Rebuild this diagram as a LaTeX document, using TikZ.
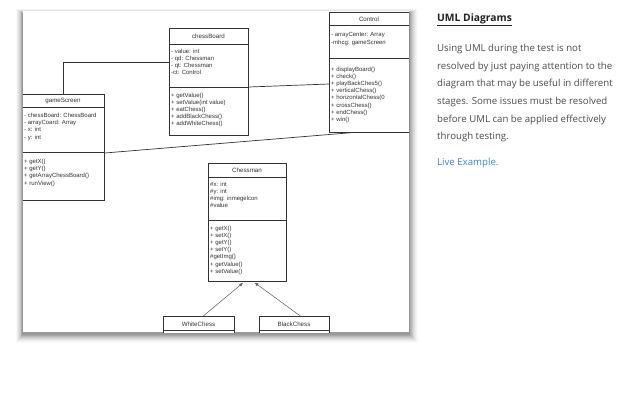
\documentclass[tikz,border=0pt]{standalone}
\usepackage{fontspec}
\setmainfont{Liberation Sans}
\newfontfamily\webfont{Open Sans}
\usetikzlibrary{arrows.meta}
\definecolor{ink}{HTML}{333333}
\definecolor{bodygray}{HTML}{4D4D4D}
\definecolor{headgray}{HTML}{222222}
\definecolor{linkblue}{HTML}{3A86C8}
\begin{document}
\begin{tikzpicture}[x=1pt,y=-1pt,
  cls/.style={draw=ink, line width=0.7pt, fill=white, inner sep=0, anchor=north west},
  divline/.style={draw=ink, line width=0.6pt},
  ctitle/.style={font=\fontsize{6.2}{7.2}\selectfont, text=ink, inner sep=0},
  items/.style={font=\fontsize{6}{7.2}\selectfont, text=ink, align=left, inner sep=0, anchor=north west},
  assoc/.style={draw=ink, line width=0.7pt},
  inh/.style={draw=ink!80, line width=0.5pt, -{Triangle[length=3.5pt,width=3pt]}, shorten >=2pt}
]
\useasboundingbox (0,0) rectangle (640,400);
\fill[white] (0,0) rectangle (640,400);
% panel shadow
\foreach \i/\o in {9/0.02,8/0.025,7/0.03,6/0.04,5/0.05,4/0.06,3/0.07,2/0.08,1/0.1}
  \fill[black,opacity=\o] (23-\i*0.8,11-\i*0.5+2) rectangle (409+\i,332+\i+1.5);
\fill[white] (23,11) rectangle (409,332);

\begin{scope}
\clip (23,11) rectangle (409,332);
% chessBoard
\node[cls, minimum width=79pt, minimum height=107pt] (chessBoard) at (169,28) {};
\node[ctitle] (cbT) at (208.5,36) {chessBoard};
\draw[divline] (169,44) -- (248,44);
\draw[divline] (169,87) -- (248,87);
\node[items] (cbA) at (171,48.5) {- value: int\\- qd: Chessman\\- qt: Chessman\\-ct: Control};
\node[items] (cbM) at (171,92.5) {+ getValue()\\+ setValue(int value)\\+ eatChess()\\+ addBlackChess()\\+ addWhiteChess()};
% Control
\node[cls, minimum width=80pt, minimum height=120pt] (Control) at (329,12) {};
\node[ctitle] (ctT) at (369,19) {Control};
\draw[divline] (329,25) -- (409,25);
\draw[divline] (329,58) -- (409,58);
\node[items] (ctA) at (331,32.5) {- arrayCenter: Array\\-mhcg: gameScreen};
\node[items] (ctM) at (331,66.5) {+ displayBoard()\\+ check()\\+ playBackChes5()\\+ verticalChess()\\+ horizontalChess(0\\+ crossChess()\\+ endChess()\\+ win()};
% gameScreen
\node[cls, minimum width=82pt, minimum height=106pt] (gameScreen) at (22,94) {};
\node[ctitle] (gsT) at (63,101) {gameScreen};
\draw[divline] (22,107) -- (104,107);
\draw[divline] (22,152) -- (104,152);
\node[items] (gsA) at (24,113) {- chessBoard: ChessBoard\\- arrayCoard: Array\\- x: int\\- y: int};
\node[items] (gsM) at (24,159) {+ getX()\\+ getY()\\+ getArrayChessBoard()\\+ runView()};
% Chessman
\node[cls, minimum width=78pt, minimum height=118pt] (Chessman) at (208,163) {};
\node[ctitle] (cmT) at (247,170) {Chessman};
\draw[divline] (208,177) -- (286,177);
\draw[divline] (208,220) -- (286,220);
\node[items] (cmA) at (210,181.5) {\#x: int\\\#y: int\\\#img: inmegelcon\\\#value};
\node[items] (cmM) at (210,225.5) {+ getX()\\+ setX()\\+ getY()\\+ setY()\\\#getImg()\\+ getValue()\\+ setValue()};
% WhiteChess / BlackChess
\node[cls, minimum width=71pt, minimum height=20pt] (WhiteChess) at (163,316) {};
\node[ctitle] (wcT) at (198.5,324) {WhiteChess};
\draw[divline] (163,330.5) -- (234,330.5);
\node[cls, minimum width=70pt, minimum height=20pt] (BlackChess) at (259,316) {};
\node[ctitle] (bcT) at (294,324) {BlackChess};
\draw[divline] (259,330.5) -- (329,330.5);
\end{scope}

% associations
\draw[assoc] (gameScreen.north) |- ([yshift=-34pt]chessBoard.north west);
\draw[assoc] ([yshift=-59pt]chessBoard.north east) -- ([yshift=-72pt]Control.north west);
\draw[assoc] ([yshift=-59pt]gameScreen.north east) -- ([xshift=22pt]Control.south west);
% inheritance
\draw[inh] ([xshift=4.5pt]WhiteChess.north) -- ([xshift=-3pt]Chessman.south);
\draw[inh] ([xshift=6pt]BlackChess.north) -- ([xshift=6pt]Chessman.south);

% right text
\node[anchor=west, inner sep=0, text=headgray, font=\webfont\bfseries\fontsize{10.3}{12}\selectfont] (head) at (437,20) {\underline{UML Diagrams}};
\node[anchor=north west, inner sep=0, align=left, text=bodygray, font=\webfont\fontsize{9.65}{17.6}\selectfont] (body) at (437,44.2) {Using UML during the test is not\\resolved by just paying attention to the\\diagram that may be useful in different\\stages. Some issues must be resolved\\before UML can be applied effectively\\through testing.};
\node[anchor=west, inner sep=0, text=linkblue, font=\webfont\fontsize{9.65}{12}\selectfont] (link) at (437,163) {Live Example.};
\end{tikzpicture}
\end{document}
